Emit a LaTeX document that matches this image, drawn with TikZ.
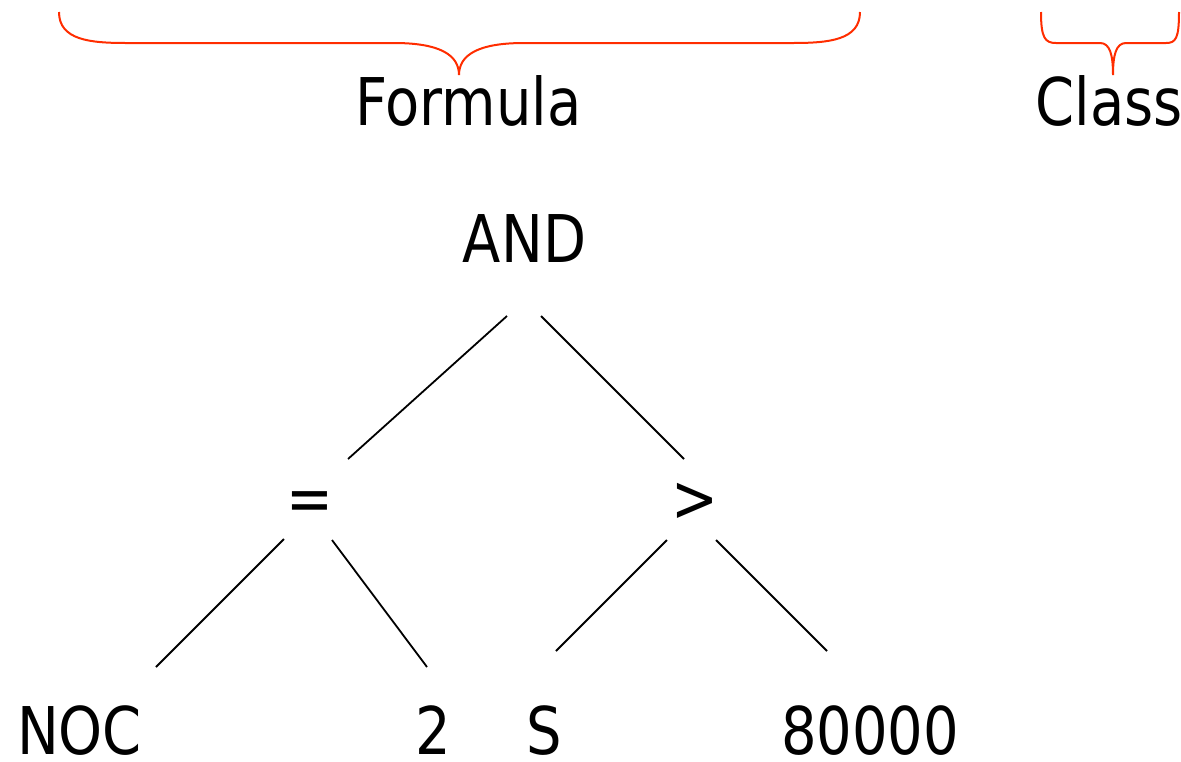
\documentclass[tikz,border=0pt]{standalone}
\usepackage{fontspec}
\setmainfont[FakeStretch=0.85]{DejaVu Sans}
\begin{document}
\begin{tikzpicture}[x=1pt,y=-1pt,
  lbl/.style={inner sep=0pt,anchor=base,text depth=0pt,font=\fontsize{65.8pt}{70pt}\selectfont},
  edge/.style={draw=black,line width=1.8pt},
  brace/.style={draw={rgb,255:red,255;green,45;blue,0},line width=2pt}]
\useasboundingbox (0,0) rectangle (1181,761);
% braces and headings
\draw[brace] (59,12) .. controls (59,40) and (90,43) .. (126,43) -- (394,43)
  .. controls (440,43) and (459,55) .. (459,75)
  .. controls (459,55) and (478,43) .. (524,43) -- (793,43)
  .. controls (829,43) and (860,40) .. (860,12);
\draw[brace] (1041,12) .. controls (1041,38) and (1045,43) .. (1056,43) -- (1100,43)
  .. controls (1110,43) and (1113,55) .. (1113,75)
  .. controls (1113,55) and (1116,43) .. (1126,43) -- (1166,43)
  .. controls (1176,43) and (1179,38) .. (1179,12);
\node[lbl] (formula) at (468.5,125) {Formula};
\node[lbl] (class) at (1109,125) {Class};
% tree
\node[lbl] (and) at (524.5,262) {AND};
\node[lbl] (eq) at (310,521) {=};
\node[lbl] (gt) at (694.5,521) {>};
\node[lbl] (noc) at (79.5,754) {NOC};
\node[lbl] (two) at (433,754) {2};
\node[lbl] (s) at (544.5,754) {S};
\node[lbl] (num) at (870,754) {80000};
\draw[edge] ([shift={(-17.5,54)}]and.base) -- ([shift={(38,-62)}]eq.base);
\draw[edge] ([shift={(16.5,54)}]and.base) -- ([shift={(-10.5,-62)}]gt.base);
\draw[edge] ([shift={(-26,18)}]eq.base) -- ([shift={(76.5,-87)}]noc.base);
\draw[edge] ([shift={(22,19)}]eq.base) -- ([shift={(-6,-87)}]two.base);
\draw[edge] ([shift={(-27.5,19)}]gt.base) -- ([shift={(11.5,-103)}]s.base);
\draw[edge] ([shift={(21.5,19)}]gt.base) -- ([shift={(-43,-103)}]num.base);
\end{tikzpicture}
\end{document}
